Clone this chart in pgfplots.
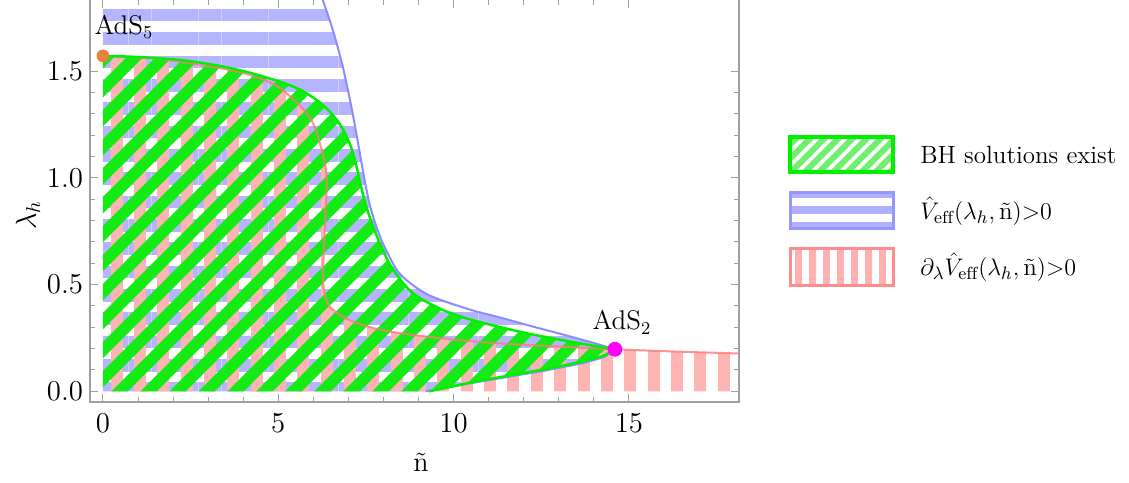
\documentclass[border=0pt]{standalone}
\usepackage{fontspec}
\usepackage{pgfplots}
\pgfplotsset{compat=1.18}
\usepgfplotslibrary{fillbetween}
\usetikzlibrary{patterns.meta}

\definecolor{bstripe}{RGB}{180,180,255}
\definecolor{rstripe}{RGB}{255,180,180}
\definecolor{gstripe}{RGB}{20,235,20}
\definecolor{bline}{RGB}{140,140,255}
\definecolor{rline}{RGB}{255,120,120}
\definecolor{gline}{RGB}{0,240,0}
\definecolor{framegray}{RGB}{160,160,160}
\definecolor{adsfive}{RGB}{230,130,60}
\definecolor{adstwo}{RGB}{255,0,255}
\definecolor{lgreen}{RGB}{110,240,110}
\definecolor{lblue}{RGB}{176,176,255}
\definecolor{lred}{RGB}{255,176,176}
\definecolor{bframe}{RGB}{150,150,255}
\definecolor{rframe}{RGB}{255,140,140}

\begin{document}
\begin{tikzpicture}
\begin{axis}[
  at={(45pt,40pt)}, anchor=south west,
  scale only axis, width=324.5pt, height=201pt,
  xmin=-0.37, xmax=18.14, ymin=-0.05, ymax=1.833,
  xtick={0,5,10,15}, minor x tick num=4,
  ytick={0,0.5,1,1.5}, minor y tick num=4,
  yticklabel style={/pgf/number format/.cd, fixed, fixed zerofill, precision=1},
  xticklabel style={yshift=-2.5pt},
  tick align=inside,
  major tick length=4pt, minor tick length=2.5pt,
  tick style={framegray, line width=0.5pt},
  axis line style={draw=none},
  ticklabel style={font=\fontsize{14}{16}\selectfont},
  xlabel={ñ}, ylabel={$\lambda_h$},
  label style={font=\fontsize{14}{16}\selectfont},
  xlabel style={at={(axis description cs:0.51,-0.15)}, anchor=center},
  ylabel style={at={(axis description cs:-0.0955,0.465)}, anchor=center},
  after end axis/.code={
    \draw[framegray, line width=0.6pt] (rel axis cs:0,1) -- (rel axis cs:0,0) -- (rel axis cs:1,0) -- (rel axis cs:1,1);
  },
]
% boundary paths (hidden)
\addplot[draw=none, smooth, name path=gU, forget plot] coordinates {
  (0,1.571) (1.0,1.566) (2.2,1.552) (3.2,1.528) (4.1,1.496) (4.9,1.458)
  (5.53,1.42) (6.05,1.37) (6.47,1.31) (6.8,1.24) (7.04,1.16) (7.22,1.06)
  (7.36,0.96) (7.52,0.86) (7.78,0.74) (8.2,0.59) (8.8,0.465) (9.6,0.388)
  (10.4,0.34) (11.32,0.301) (12.2,0.268) (13.12,0.239) (13.9,0.216) (14.6,0.197)};
\addplot[draw=none, name path=gL, forget plot] coordinates {
  (0,0) (9.3,0) (10.75,0.05) (12.66,0.105) (13.7,0.14) (14.3,0.168) (14.6,0.197)};
\addplot[draw=none, smooth, name path=bU, forget plot] coordinates {
  (6.03,1.95) (6.27,1.833) (6.56,1.69) (6.84,1.52) (7.1,1.32) (7.3,1.14)
  (7.45,1.0) (7.6,0.88) (7.8,0.77) (8.05,0.67) (8.47,0.55) (9.24,0.455)
  (10.38,0.387) (11.32,0.346) (12.2,0.306) (13.12,0.266) (13.9,0.231) (14.6,0.197)};
\addplot[draw=none, name path=bL, forget plot] coordinates {
  (14.6,0.197) (14.3,0.16) (13.7,0.132) (12.66,0.098) (10.75,0.045) (9.2,0) (0,0) (0,1.95)};
\addplot[draw=none, smooth, name path=rU, forget plot] coordinates {
  (0,1.571) (1.7,1.555) (3.62,1.505) (4.5,1.465) (5.05,1.42) (5.6,1.34)
  (5.99,1.256) (6.24,1.13) (6.36,1.04) (6.38,0.95) (6.35,0.85) (6.32,0.74)
  (6.29,0.62) (6.28,0.506) (6.35,0.44) (6.5,0.39) (7.04,0.333) (7.98,0.286)
  (9.41,0.253) (10.84,0.23) (12.5,0.214) (14.6,0.197) (16.4,0.186) (18.4,0.176)};
\addplot[draw=none, name path=base, forget plot] coordinates {(0,0) (18.4,0)};

% hatched regions
\addplot[draw=none, pattern={Lines[angle=0,distance=11.67pt,line width=6.3pt]},
  pattern color=bstripe, fill opacity=0.7, forget plot] fill between[of=bU and bL, reverse=false];
\addplot[draw=none, pattern={Lines[angle=90,distance=11.67pt,line width=6pt]},
  pattern color=rstripe, fill opacity=0.7, forget plot] fill between[of=rU and base];
\addplot[draw=none, pattern={Lines[angle=45,distance=10.25pt,line width=5.8pt]},
  pattern color=gstripe, fill opacity=0.85, forget plot] fill between[of=gU and gL];

% boundary lines
\addplot[bline, line width=1pt, smooth] coordinates {
  (6.03,1.95) (6.27,1.833) (6.56,1.69) (6.84,1.52) (7.1,1.32) (7.3,1.14)
  (7.45,1.0) (7.6,0.88) (7.8,0.77) (8.05,0.67) (8.47,0.55) (9.24,0.455)
  (10.38,0.387) (11.32,0.346) (12.2,0.306) (13.12,0.266) (13.9,0.231) (14.6,0.197)};
\addplot[bline, line width=0.9pt] coordinates {
  (9.2,0) (10.75,0.045) (12.66,0.098) (13.7,0.132) (14.3,0.16) (14.6,0.197)};
\addplot[rline, line width=1pt, smooth, opacity=0.8] coordinates {
  (0,1.571) (1.7,1.555) (3.62,1.505) (4.5,1.465) (5.05,1.42) (5.6,1.34)
  (5.99,1.256) (6.24,1.13) (6.36,1.04) (6.38,0.95) (6.35,0.85) (6.32,0.74)
  (6.29,0.62) (6.28,0.506) (6.35,0.44) (6.5,0.39) (7.04,0.333) (7.98,0.286)
  (9.41,0.253) (10.84,0.23) (12.5,0.214) (14.6,0.197) (16.4,0.186) (18.4,0.176)};
\addplot[gline, line width=1.25pt, smooth] coordinates {
  (0,1.571) (1.0,1.566) (2.2,1.552) (3.2,1.528) (4.1,1.496) (4.9,1.458)
  (5.53,1.42) (6.05,1.37) (6.47,1.31) (6.8,1.24) (7.04,1.16) (7.22,1.06)
  (7.36,0.96) (7.52,0.86) (7.78,0.74) (8.2,0.59) (8.8,0.465) (9.6,0.388)
  (10.4,0.34) (11.32,0.301) (12.2,0.268) (13.12,0.239) (13.9,0.216) (14.6,0.197)};
\addplot[gline, line width=1.25pt] coordinates {
  (9.3,0) (10.75,0.05) (12.66,0.105) (13.7,0.14) (14.3,0.168) (14.6,0.197)};

% special points
\addplot[only marks, mark=*, color=adsfive, mark size=3pt] coordinates {(0,1.571)};
\addplot[only marks, mark=*, color=adstwo, mark size=3.5pt] coordinates {(14.6,0.197)};
\node[font=\fontsize{13.5}{15}\selectfont] at (axis cs:0.6,1.706) {AdS$_5$};
\node[font=\fontsize{13.5}{15}\selectfont] at (axis cs:14.8,0.323) {AdS$_2$};
\end{axis}

% legend
\path[draw=gline, line width=1.8pt, pattern={Lines[angle=45,distance=5pt,line width=3pt]},
  pattern color=lgreen] (395pt,155pt) rectangle (446.5pt,172.5pt);
\path[draw=bframe, line width=1.5pt, pattern={Lines[angle=0,distance=8pt,line width=4pt]},
  pattern color=lblue] (395pt,126.5pt) rectangle (446.5pt,144.5pt);
\path[draw=rframe, line width=1.5pt, pattern={Lines[angle=90,distance=7pt,line width=3.5pt]},
  pattern color=lred] (395pt,98pt) rectangle (446.5pt,116.5pt);
\begin{scope}[every node/.style={anchor=west, font=\fontsize{12.5}{15}\selectfont, inner sep=0pt}]
\node at (460pt,163.5pt) {BH solutions exist};
\node at (460pt,135.5pt) {$\hat{V}_{\mathrm{eff}}(\lambda_h,\mbox{ñ})\mathord{>}0$};
\node at (460pt,107.5pt) {$\partial_\lambda\hat{V}_{\mathrm{eff}}(\lambda_h,\mbox{ñ})\mathord{>}0$};
\end{scope}
\pgfresetboundingbox
\path[use as bounding box] (0,0) rectangle (564.5pt,241pt);
\end{tikzpicture}
\end{document}
